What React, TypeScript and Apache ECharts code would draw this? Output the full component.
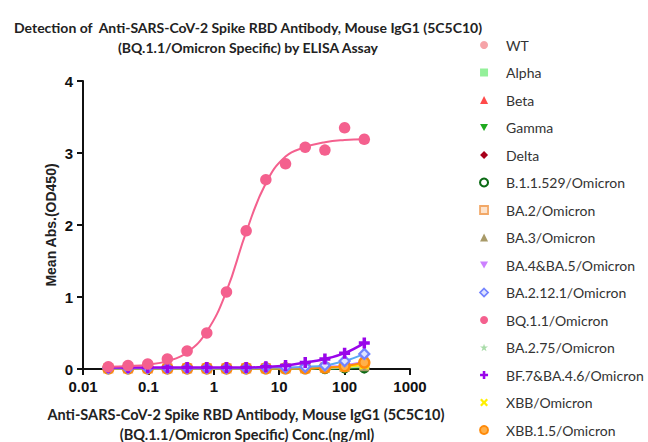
import React, { useEffect, useRef } from "react";
import * as echarts from "echarts";

const titleLines = [
  "Detection of  Anti-SARS-CoV-2 Spike RBD Antibody, Mouse IgG1 (5C5C10)",
  "(BQ.1.1/Omicron Specific) by ELISA Assay",
];
const xCaptionLines = [
  "Anti-SARS-CoV-2 Spike RBD Antibody, Mouse IgG1 (5C5C10)",
  "(BQ.1.1/Omicron Specific) Conc.(ng/ml)",
];
const yAxisName = "Mean Abs.(OD450)";

const conc = [0.0244, 0.0488, 0.0977, 0.195, 0.391, 0.781, 1.5625, 3.125, 6.25, 12.5, 25, 50, 100, 200];

const seriesNames = [
  "WT", "Alpha", "Beta", "Gamma", "Delta", "B.1.1.529/Omicron", "BA.2/Omicron", "BA.3/Omicron",
  "BA.4&BA.5/Omicron", "BA.2.12.1/Omicron", "BQ.1.1/Omicron", "BA.2.75/Omicron",
  "BF.7&BA.4.6/Omicron", "XBB/Omicron", "XBB.1.5/Omicron",
];

const wt = [0.01, 0.01, 0.01, 0.01, 0.01, 0.01, 0.01, 0.01, 0.01, 0.01, 0.01, 0.01, 0.02, 0.03];
const alpha = [0.01, 0.01, 0.01, 0.01, 0.01, 0.01, 0.01, 0.01, 0.01, 0.01, 0.01, 0.02, 0.02, 0.03];
const beta = [0.01, 0.01, 0.01, 0.01, 0.01, 0.01, 0.01, 0.01, 0.01, 0.01, 0.01, 0.01, 0.02, 0.02];
const gamma = [0.01, 0.01, 0.01, 0.01, 0.01, 0.01, 0.01, 0.01, 0.01, 0.01, 0.01, 0.01, 0.01, 0.02];
const delta = [0.01, 0.01, 0.01, 0.01, 0.01, 0.01, 0.01, 0.01, 0.01, 0.01, 0.01, 0.01, 0.02, 0.02];
const b11529 = [0.0, 0.0, 0.0, 0.0, 0.0, 0.0, 0.0, 0.0, 0.0, 0.0, 0.0, 0.0, 0.01, 0.01];
const ba2 = [0.01, 0.01, 0.01, 0.01, 0.01, 0.01, 0.01, 0.01, 0.01, 0.01, 0.01, 0.02, 0.03, 0.05];
const ba3 = [0.01, 0.01, 0.01, 0.01, 0.01, 0.01, 0.01, 0.01, 0.01, 0.01, 0.01, 0.01, 0.02, 0.03];
const ba45 = [0.01, 0.01, 0.01, 0.01, 0.01, 0.01, 0.01, 0.01, 0.01, 0.02, 0.02, 0.03, 0.05, 0.1];
const ba2121 = [0.01, 0.01, 0.01, 0.01, 0.01, 0.01, 0.01, 0.01, 0.02, 0.02, 0.03, 0.05, 0.11, 0.21];
const bq11 = [0.03, 0.05, 0.07, 0.14, 0.25, 0.5, 1.07, 1.92, 2.63, 2.85, 3.08, 3.04, 3.35, 3.19];
const bq11Fit = [0.03, 0.04, 0.06, 0.11, 0.23, 0.52, 1.08, 1.9, 2.58, 2.95, 3.08, 3.15, 3.18, 3.19];
const ba275 = [0.01, 0.01, 0.01, 0.01, 0.01, 0.01, 0.01, 0.01, 0.01, 0.01, 0.01, 0.02, 0.02, 0.04];
const bf7 = [0.02, 0.02, 0.02, 0.02, 0.02, 0.02, 0.02, 0.02, 0.03, 0.05, 0.09, 0.14, 0.22, 0.36];
const xbb = [0.01, 0.01, 0.01, 0.01, 0.01, 0.01, 0.01, 0.01, 0.01, 0.01, 0.01, 0.02, 0.03, 0.06];
const xbb15 = [0.01, 0.01, 0.01, 0.01, 0.01, 0.01, 0.01, 0.01, 0.01, 0.01, 0.01, 0.02, 0.04, 0.09];

const xTicks = [0.01, 0.1, 1, 10, 100, 1000];
const yTicks = [0, 1, 2, 3, 4];

const INV_TRI = "path://M0,0L10,0L5,9Z";
const PLUS = "path://M3.4,0H6.6V3.4H10V6.6H6.6V10H3.4V6.6H0V3.4H3.4Z";
const CROSS = "path://M0,2L2,0L5,3L8,0L10,2L7,5L10,8L8,10L5,7L2,10L0,8L3,5Z";
const STAR = "path://M5,0L6.2,3.6L10,3.6L6.9,5.8L8.1,9.5L5,7.2L1.9,9.5L3.1,5.8L0,3.6L3.8,3.6Z";

type Sty = { symbol: string; size: number; color: string; border?: string; bw?: number; line: string };
const styles: Record<string, Sty> = {
  "WT": { symbol: "circle", size: 8, color: "#f6a3a8", line: "#f6a3a8" },
  "Alpha": { symbol: "rect", size: 8, color: "#94f09a", line: "#94f09a" },
  "Beta": { symbol: "triangle", size: 8, color: "#ff4a4a", line: "#ff4a4a" },
  "Gamma": { symbol: INV_TRI, size: 8, color: "#1faa1f", line: "#1faa1f" },
  "Delta": { symbol: "diamond", size: 9, color: "#a8001a", line: "#a8001a" },
  "B.1.1.529/Omicron": { symbol: "circle", size: 8, color: "#ffffff", border: "#0b6a14", bw: 2.6, line: "#0b6a14" },
  "BA.2/Omicron": { symbol: "rect", size: 8, color: "#fde3cc", border: "#f2a867", bw: 2.2, line: "#f2a867" },
  "BA.3/Omicron": { symbol: "triangle", size: 9, color: "#a89a68", line: "#a89a68" },
  "BA.4&BA.5/Omicron": { symbol: INV_TRI, size: 9, color: "#cc80ff", line: "#cc80ff" },
  "BA.2.12.1/Omicron": { symbol: "diamond", size: 10, color: "#dfe4ff", border: "#7383ff", bw: 2.2, line: "#5aaaf5" },
  "BQ.1.1/Omicron": { symbol: "circle", size: 11.5, color: "#f4608e", line: "#f4608e" },
  "BA.2.75/Omicron": { symbol: STAR, size: 8, color: "#a9dca9", line: "#a9dca9" },
  "BF.7&BA.4.6/Omicron": { symbol: PLUS, size: 11, color: "#9a05ea", line: "#9a05ea" },
  "XBB/Omicron": { symbol: CROSS, size: 10, color: "#fff000", line: "#fff000" },
  "XBB.1.5/Omicron": { symbol: "circle", size: 10, color: "#ffb04a", border: "#ff8a0a", bw: 2.4, line: "#ff8a0a" },
};

const lowSeries: [string, number[]][] = [
  ["WT", wt], ["Alpha", alpha], ["Beta", beta], ["Gamma", gamma], ["Delta", delta],
  ["B.1.1.529/Omicron", b11529], ["BA.2/Omicron", ba2], ["BA.3/Omicron", ba3],
  ["BA.4&BA.5/Omicron", ba45], ["BA.2.75/Omicron", ba275], ["XBB/Omicron", xbb],
  ["XBB.1.5/Omicron", xbb15], ["BA.2.12.1/Omicron", ba2121], ["BF.7&BA.4.6/Omicron", bf7],
];

export default function App() {
  const ref = useRef<HTMLDivElement>(null);
  useEffect(() => {
    if (!ref.current) return;
    const chart = echarts.init(ref.current, undefined, { renderer: "svg" });
    const pair = (ys: number[]) => conc.map((c, i) => [c, ys[i]]);

    const series: any[] = lowSeries.map(([name, ys], k) => {
      const s = styles[name];
      return {
        name,
        type: "line",
        data: pair(ys),
        smooth: 0.4,
        symbol: s.symbol,
        symbolSize: s.size,
        itemStyle: { color: s.color, borderColor: s.border ?? s.color, borderWidth: s.bw ?? 0, opacity: 1 },
        lineStyle: { color: s.line, width: name === "BF.7&BA.4.6/Omicron" ? 2.5 : 2 },
        z: 2 + k * 0.01,
      };
    });
    const bq = styles["BQ.1.1/Omicron"];
    series.push({
      name: "BQ.1.1 fit",
      type: "line",
      data: pair(bq11Fit),
      smooth: 0.45,
      showSymbol: false,
      symbol: "none",
      lineStyle: { color: bq.line, width: 2 },
      z: 5,
    });
    series.push({
      name: "BQ.1.1/Omicron",
      type: "scatter",
      data: pair(bq11),
      symbol: bq.symbol,
      symbolSize: bq.size,
      itemStyle: { color: bq.color, opacity: 1 },
      z: 6,
    });

    const legendData = seriesNames.map((name) => {
      const s = styles[name];
      return {
        name,
        icon: s.symbol,
        itemStyle: { color: s.color, borderColor: s.border ?? s.color, borderWidth: (s.bw ?? 0) * 0.8 },
      };
    });

    const fmtX = (v: number) => {
      const r = Number(v.toPrecision(3));
      const hit = xTicks.find((t) => Math.abs(t - r) / t < 1e-6);
      return hit !== undefined ? String(hit) : "";
    };

    chart.setOption({
      animation: false,
      backgroundColor: "#ffffff",
      grid: { left: 83, right: 238, top: 81, bottom: 73, containLabel: false },
      legend: {
        orient: "vertical",
        left: 479,
        top: 37,
        padding: 0,
        itemWidth: 8,
        itemHeight: 8,
        itemGap: 11.5,
        selectedMode: false,
        data: legendData,
        textStyle: {
          fontFamily: "Lato",
          fontSize: 14,
          color: "#333333",
          lineHeight: 16,
          padding: [0, 0, 0, 13],
        },
      },
      xAxis: {
        type: "log",
        logBase: 10,
        min: xTicks[0],
        max: xTicks[xTicks.length - 1],
        axisLine: { show: true, onZero: false, lineStyle: { color: "#111111", width: 2 } },
        axisTick: { show: true, inside: false, length: 6, lineStyle: { color: "#111111", width: 2 } },
        minorTick: { show: false },
        splitLine: { show: false },
        axisLabel: {
          formatter: fmtX,
          margin: 10,
          fontFamily: "Liberation Sans",
          fontWeight: "bold",
          fontSize: 15,
          color: "#111111",
          showMinLabel: true,
          showMaxLabel: true,
        },
      },
      yAxis: {
        type: "value",
        min: yTicks[0],
        max: yTicks[yTicks.length - 1],
        interval: 1,
        name: yAxisName,
        nameLocation: "middle",
        nameGap: 25,
        nameMoveOverlap: false,
        nameTextStyle: { fontFamily: "Liberation Sans", fontWeight: "bold", fontSize: 14, color: "#222222" },
        axisLine: { show: true, lineStyle: { color: "#111111", width: 2 } },
        axisTick: { show: true, inside: false, length: 6, lineStyle: { color: "#111111", width: 2 } },
        splitLine: { show: false },
        axisLabel: {
          margin: 10,
          fontFamily: "Liberation Sans",
          fontWeight: "bold",
          fontSize: 15,
          color: "#111111",
        },
      },
      graphic: [
        { type: "text", x: 248, y: 27, style: { text: titleLines[0], textAlign: "center", textVerticalAlign: "middle", font: "bold 14px Lato", fill: "#222222" } },
        { type: "text", x: 248, y: 47, style: { text: titleLines[1], textAlign: "center", textVerticalAlign: "middle", font: "bold 14px Lato", fill: "#222222" } },
        { type: "text", x: 246, y: 414, style: { text: xCaptionLines[0], textAlign: "center", textVerticalAlign: "middle", font: "bold 14.5px Lato", fill: "#222222" } },
        { type: "text", x: 247, y: 434, style: { text: xCaptionLines[1], textAlign: "center", textVerticalAlign: "middle", font: "bold 14.5px Lato", fill: "#222222" } },
      ],
      series,
    });
    return () => chart.dispose();
  }, []);
  return <div ref={ref} style={{ position: "fixed", left: 0, top: 0, width: 648, height: 442 }} />;
}
